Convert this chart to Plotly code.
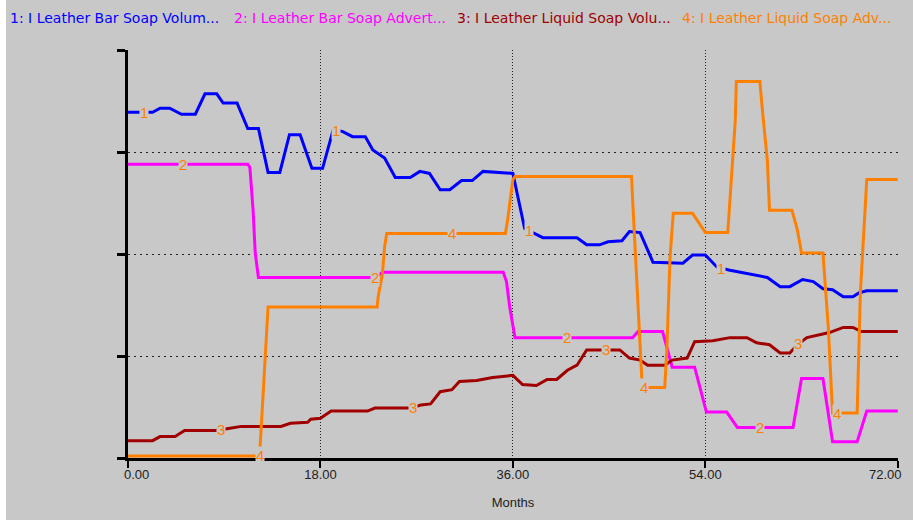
"""Stella-style time plot of the Leather soap sector, redrawn with plotly"""

import numpy as np
import plotly.graph_objects as go

# series 1: I Leather Bar Soap Volume (scaled 0-4)
bar_vol_months = [0.0, 2.3, 3.0, 3.9, 5.0, 6.3, 7.2, 8.3, 8.9, 10.2, 11.2, 12.2, 13.1, 14.2,
                  15.1, 16.1, 17.2, 18.2, 19.2, 20.1, 21.0, 22.2, 22.9, 24.0, 25.0, 26.4,
                  27.3, 28.2, 29.2, 30.1, 31.2, 32.2, 33.2, 34.5, 36.0, 37.1, 38.2, 38.8,
                  42.0, 42.9, 44.1, 44.9, 46.2, 46.9, 47.9, 49.1, 51.9, 52.8, 54.0, 55.1,
                  56.3, 57.9, 59.8, 61.0, 61.9, 63.1, 64.1, 65.0, 65.9, 66.9, 67.8, 68.4,
                  69.1, 72.0]
bar_vol = [3.39, 3.39, 3.43, 3.43, 3.37, 3.37, 3.57, 3.57, 3.48, 3.48, 3.23, 3.23, 2.80, 2.80,
           3.17, 3.17, 2.84, 2.84, 3.22, 3.20, 3.15, 3.15, 3.02, 2.94, 2.75, 2.75,
           2.81, 2.79, 2.63, 2.63, 2.72, 2.72, 2.81, 2.80, 2.79, 2.25, 2.19, 2.16,
           2.16, 2.09, 2.09, 2.12, 2.13, 2.22, 2.21, 1.92, 1.91, 1.99, 1.99, 1.87,
           1.84, 1.81, 1.77, 1.68, 1.68, 1.75, 1.73, 1.66, 1.65, 1.58, 1.58, 1.62,
           1.64, 1.64]

# series 2: I Leather Bar Soap Advertising
bar_adv_months = [0.0, 11.2, 11.4, 11.7, 11.9, 12.2, 23.1, 23.8, 35.1, 35.4, 35.7, 36.2,
                  47.2, 47.7, 50.0, 50.5, 50.9, 53.0, 54.1, 56.0, 57.0, 62.2, 63.0, 65.0,
                  65.9, 68.2, 69.1, 72.0]
bar_adv = [2.88, 2.88, 2.85, 2.43, 2.01, 1.77, 1.77, 1.82, 1.82, 1.73, 1.48, 1.18,
           1.18, 1.24, 1.24, 1.06, 0.89, 0.89, 0.45, 0.45, 0.30, 0.30, 0.78, 0.78,
           0.16, 0.16, 0.46, 0.46]

# series 3: I Leather Liquid Soap Volume
liq_vol_months = [0.0, 2.3, 3.0, 4.4, 5.3, 8.2, 9.4, 10.6, 14.3, 15.2, 16.8, 17.1, 18.0,
                  19.0, 22.4, 23.1, 26.4, 27.4, 28.3, 29.2, 30.3, 31.0, 32.6, 34.1, 36.0,
                  36.9, 38.2, 39.2, 40.1, 41.1, 42.0, 42.9, 46.0, 46.9, 47.9, 48.6, 50.2,
                  50.9, 52.3, 53.0, 54.7, 56.3, 57.9, 58.8, 60.0, 61.0, 61.9, 62.6, 63.5,
                  64.7, 65.6, 66.9, 67.8, 68.6, 72.0]
liq_vol = [0.17, 0.17, 0.21, 0.21, 0.27, 0.27, 0.29, 0.31, 0.31, 0.34, 0.35, 0.38, 0.39,
           0.46, 0.46, 0.49, 0.49, 0.52, 0.53, 0.65, 0.67, 0.75, 0.76, 0.79, 0.81,
           0.72, 0.71, 0.77, 0.77, 0.86, 0.91, 1.06, 1.06, 0.98, 0.96, 0.91, 0.91,
           0.96, 0.98, 1.14, 1.15, 1.18, 1.18, 1.13, 1.11, 1.03, 1.03, 1.11, 1.18,
           1.21, 1.23, 1.28, 1.28, 1.24, 1.24]

# series 4: I Leather Liquid Soap Advertising
liq_adv_months = [0.0, 12.3, 12.5, 12.8, 13.1, 23.3, 23.4, 23.8, 24.0, 24.2, 35.3, 35.5,
                  36.0, 36.2, 47.1, 47.2, 47.6, 47.9, 48.1, 50.2, 50.4, 50.7, 51.0, 52.8,
                  54.0, 56.1, 56.4, 56.8, 56.9, 59.1, 59.4, 59.8, 60.0, 62.1, 62.6, 63.0,
                  65.0, 65.5, 65.9, 68.2, 68.5, 68.9, 69.1, 72.0]
liq_adv = [0.02, 0.02, 0.37, 0.93, 1.48, 1.48, 1.58, 1.81, 2.07, 2.20, 2.20, 2.33,
           2.73, 2.76, 2.76, 2.53, 1.72, 1.06, 0.69, 0.69, 1.06, 1.97, 2.40, 2.40,
           2.21, 2.21, 2.73, 3.31, 3.69, 3.69, 3.34, 2.92, 2.43, 2.43, 2.24, 2.01,
           2.01, 1.28, 0.44, 0.44, 1.62, 2.43, 2.73, 2.73]

series_names = ['1: I Leather Bar Soap Volum...', '2: I Leather Bar Soap Advert...',
                '3: I Leather Liquid Soap Volu...', '4: I Leather Liquid Soap Adv...']
series_colors = ['#0000ff', '#ff00ff', '#a00000', '#ff8000']
x_ticks = [0, 18, 36, 54, 72]
x_tick_labels = ['0.00', '18.00', '36.00', '54.00', '72.00']

BG = '#c8c8c8'
LABEL_COLOR = '#ff8000'
TICK_FONT = dict(family='Liberation Sans', size=13, color='#222222')

fig = go.Figure()

data = [(bar_vol_months, bar_vol), (bar_adv_months, bar_adv),
        (liq_vol_months, liq_vol), (liq_adv_months, liq_adv)]

for i, (months, values) in enumerate(data):
    fig.add_trace(go.Scatter(
        x=months,
        y=values,
        mode='lines',
        line=dict(color=series_colors[i], width=3),
        name=series_names[i],
        showlegend=False
    ))
    # stella puts the series number on the curve every 18 months
    for k in range(4):
        m = 1.5 + 3.6 * i + 18 * k
        fig.add_annotation(
            x=m, y=float(np.interp(m, months, values)),
            text=str(i + 1), showarrow=False,
            font=dict(family='Liberation Sans', size=15, color=LABEL_COLOR),
            bgcolor=BG, borderpad=0
        )

# legend line across the top
legend_x = [8, 232, 455, 680]
for i, name in enumerate(series_names):
    fig.add_annotation(
        xref='paper', yref='paper',
        x=(legend_x[i] - 128) / 770, y=(458 - 18) / 408,
        xanchor='left', yanchor='middle',
        text=name, showarrow=False,
        font=dict(family='DejaVu Sans', size=14, color=series_colors[i])
    )

# grey panel with white strips at left and bottom
fig.add_shape(type='rect', xref='paper', yref='paper', layer='below',
              x0=(6 - 128) / 770, x1=(913 - 128) / 770,
              y0=(458 - 520) / 408, y1=(458 - 0) / 408,
              fillcolor=BG, line=dict(width=0))

# the end labels sit inside the axis ends, so they are drawn as annotations
tick_text = [''] + x_tick_labels[1:-1] + ['']
for tick, label, anchor, shift in [(x_ticks[0], x_tick_labels[0], 'left', -6),
                                   (x_ticks[-1], x_tick_labels[-1], 'right', 6)]:
    fig.add_annotation(
        x=tick, xref='x', yref='paper', y=(458 - 474) / 408,
        xanchor=anchor, yanchor='middle', xshift=shift,
        text=label, showarrow=False, font=TICK_FONT
    )

fig.update_layout(
    width=913, height=529, autosize=False,
    margin=dict(l=128, r=15, t=50, b=71),
    paper_bgcolor='white',
    plot_bgcolor='rgba(0,0,0,0)',
    font=TICK_FONT,
    xaxis=dict(
        range=[0, 72.02], tickvals=x_ticks, ticktext=tick_text,
        showline=True, linecolor='black', linewidth=3,
        ticks='outside', ticklen=7, tickwidth=2, tickcolor='black',
        ticklabeloverflow='allow', ticklabelstandoff=-5, automargin=False,
        showgrid=True, gridcolor='#222222', gridwidth=1, griddash='1px,2px',
        zeroline=False,
        title=dict(text='Months', standoff=18, font=dict(size=13))
    ),
    yaxis=dict(
        range=[0, 4], tickvals=[0, 1, 2, 3, 4], showticklabels=False,
        showline=True, linecolor='black', linewidth=3,
        ticks='outside', ticklen=8, tickwidth=3, tickcolor='black',
        showgrid=True, gridcolor='#222222', gridwidth=1, griddash='2px,4px',
        zeroline=False, automargin=False
    )
)

# drop the browser's default page margin so the figure sits at the corner
fig.write_html("out.html", config={'displayModeBar': False},
               post_script="document.body.style.margin = '0';")
